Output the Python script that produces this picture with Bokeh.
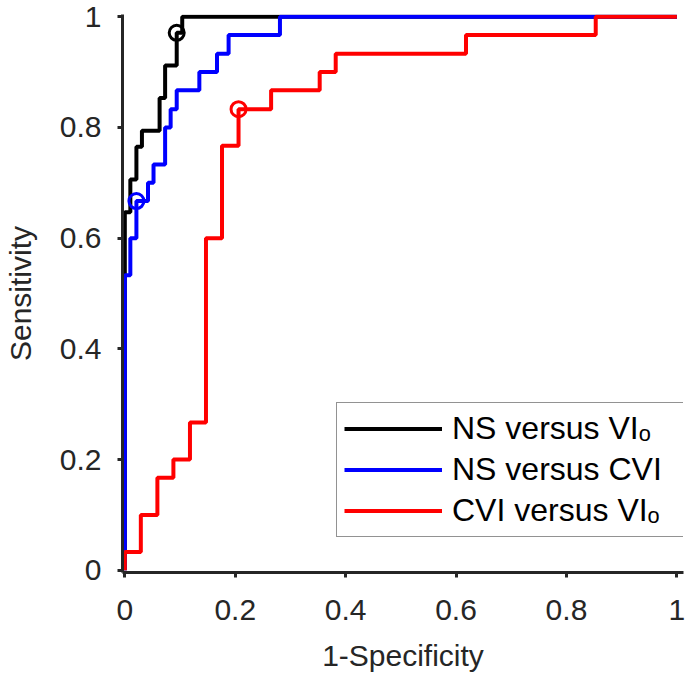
from bokeh.plotting import figure
from bokeh.models import Range1d, FixedTicker, Legend, LegendItem
from bokeh.embed import file_html
from bokeh.resources import INLINE

# ---- data ----
ns_vio_fpr = [0, 0, 0.010, 0.010, 0.021, 0.021, 0.031, 0.031, 0.063, 0.063,
              0.073, 0.073, 0.094, 0.094, 0.104, 0.104, 1.0]
ns_vio_tpr = [0, 0.647, 0.647, 0.706, 0.706, 0.765, 0.765, 0.794, 0.794, 0.853,
              0.853, 0.912, 0.912, 0.971, 0.971, 1.0, 1.0]

ns_cvi_fpr = [0, 0, 0.010, 0.010, 0.021, 0.021, 0.042, 0.042, 0.052, 0.052,
              0.073, 0.073, 0.083, 0.083, 0.094, 0.094, 0.135, 0.135, 0.167, 0.167,
              0.188, 0.188, 0.281, 0.281, 1.0]
ns_cvi_tpr = [0, 0.533, 0.533, 0.600, 0.600, 0.667, 0.667, 0.700, 0.700, 0.733,
              0.733, 0.800, 0.800, 0.833, 0.833, 0.867, 0.867, 0.900, 0.900, 0.933,
              0.933, 0.967, 0.967, 1.0, 1.0]

cvi_vio_fpr = [0, 0, 0.029, 0.029, 0.059, 0.059, 0.088, 0.088, 0.118, 0.118,
               0.147, 0.147, 0.176, 0.176, 0.206, 0.206, 0.265, 0.265, 0.353, 0.353,
               0.382, 0.382, 0.618, 0.618, 0.853, 0.853, 1.0]
cvi_vio_tpr = [0, 0.033, 0.033, 0.100, 0.100, 0.167, 0.167, 0.200, 0.200, 0.267,
               0.267, 0.600, 0.600, 0.767, 0.767, 0.833, 0.833, 0.867, 0.867, 0.900,
               0.900, 0.933, 0.933, 0.967, 0.967, 1.0, 1.0]

# optimal operating points (circles)
opt_fpr = [0.094, 0.021, 0.206]
opt_tpr = [0.971, 0.667, 0.833]

series_labels = ["NS versus VI\u2092", "NS versus CVI", "CVI versus VI\u2092"]
series_colors = ["#000000", "#0000FF", "#FF0000"]

tick_values = [0, 0.2, 0.4, 0.6, 0.8, 1.0]
tick_labels = ["0", "0.2", "0.4", "0.6", "0.8", "1"]
x_title = "1-Specificity"
y_title = "Sensitivity"

FONT = "Liberation Sans"
AXC = "#262626"

p = figure(width=685, height=681,
           x_range=Range1d(-0.0042, 1.012), y_range=Range1d(-0.004, 1.004),
           output_backend="svg", toolbar_location=None,
           min_border_left=121, min_border_right=2, min_border_top=14,
           min_border_bottom=109)
p.outline_line_color = None
p.xgrid.visible = False
p.ygrid.visible = False

lw = 4
curves = [(ns_vio_fpr, ns_vio_tpr), (ns_cvi_fpr, ns_cvi_tpr), (cvi_vio_fpr, cvi_vio_tpr)]
renderers = []
for (fx, fy), c in zip(curves, series_colors):
    r = p.line(fx, fy, line_color=c, line_width=lw)
    renderers.append(r)

for i, c in enumerate(series_colors):
    p.scatter([opt_fpr[i]], [opt_tpr[i]], marker="circle", size=15,
              fill_color=None, line_color=c, line_width=3)

for ax in (p.xaxis[0], p.yaxis[0]):
    ax.ticker = FixedTicker(ticks=tick_values)
    ax.major_label_overrides = {v: l for v, l in zip(tick_values, tick_labels)}
    ax.axis_line_color = AXC
    ax.axis_line_width = 3
    ax.major_tick_line_color = AXC
    ax.major_tick_line_width = 3
    ax.major_tick_in = 0
    ax.major_tick_out = 5
    ax.minor_tick_line_color = None
    ax.major_label_text_font = FONT
    ax.major_label_text_font_size = "30px"
    ax.major_label_text_color = AXC
    ax.axis_label_text_font = FONT
    ax.axis_label_text_font_size = "30px"
    ax.axis_label_text_font_style = "normal"
    ax.axis_label_text_color = AXC

p.xaxis.axis_label = x_title
p.yaxis.axis_label = y_title
p.xaxis.major_label_standoff = 22
p.xaxis.axis_label_standoff = 16
p.yaxis.major_label_standoff = 16
p.yaxis.axis_label_standoff = 20

legend = Legend(items=[LegendItem(label=l, renderers=[r]) for l, r in zip(series_labels, renderers)],
                location=(214, 35))
legend.margin = 0
legend.padding = 7
legend.spacing = 4
legend.glyph_width = 98
legend.glyph_height = 35
legend.label_height = 35
legend.label_width = 225
legend.label_standoff = 10
legend.label_text_font = FONT
legend.label_text_font_size = "32px"
legend.label_text_color = "#000000"
legend.border_line_color = AXC
legend.border_line_width = 1.2
legend.background_fill_color = "white"
legend.background_fill_alpha = 1
p.add_layout(legend)

open("out.html", "w").write(file_html(p, INLINE))
